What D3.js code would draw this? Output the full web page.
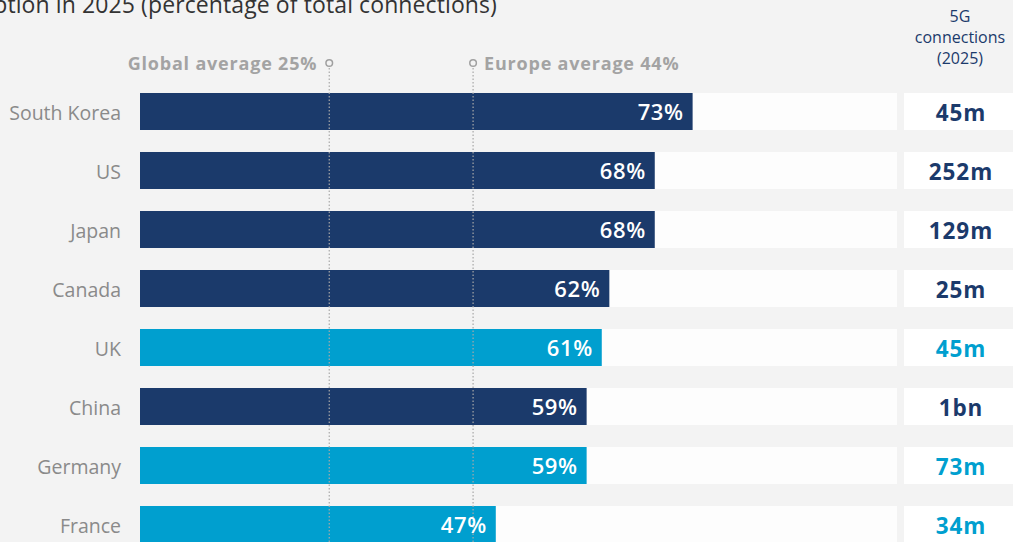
<!DOCTYPE html>
<html>
<head>
<meta charset="utf-8">
<script src="https://cdn.jsdelivr.net/npm/d3@7"></script>
<style>
  html, body { margin: 0; padding: 0; background: #f3f3f3; overflow: hidden; }
  svg { display: block; }
</style>
</head>
<body>
<div id="chart"></div>
<script>
// data
var countries = ["South Korea", "US", "Japan", "Canada", "UK", "China", "Germany", "France"];
var adoption = [73, 68, 68, 62, 61, 59, 59, 47];
var connections = ["45m", "252m", "129m", "25m", "45m", "1bn", "73m", "34m"];
var isEurope = [false, false, false, false, true, false, true, true];
var averages = [
  { label: "Global average 25%", value: 25, side: "left" },
  { label: "Europe average 44%", value: 44, side: "right" }
];

var width = 1013, height = 542;
var navy = "#1b3a6b", blue = "#009fcf";
var font = "Open Sans, sans-serif";

var svg = d3.select("#chart").append("svg")
  .attr("width", width)
  .attr("height", height);

svg.append("rect").attr("width", width).attr("height", height).attr("fill", "#f3f3f3");

var x = d3.scaleLinear().domain([0, 100]).range([140, 897]);
var y = d3.scaleBand()
  .domain(countries)
  .range([93, 93 + 59 * (countries.length - 22 / 59)])
  .paddingInner(22 / 59)
  .paddingOuter(0);

var rows = countries.map(function (c, i) {
  return { country: c, value: adoption[i], conn: connections[i], europe: isEurope[i] };
});

// title (cut off at top in the original crop)
svg.append("text")
  .attr("x", 497)
  .attr("y", 13)
  .attr("text-anchor", "end")
  .attr("font-family", font)
  .attr("font-size", 23)
  .attr("letter-spacing", 0.1)
  .attr("fill", "#333")
  .text("5G adoption in 2025 (percentage of total connections)");

// column header
svg.append("text")
  .attr("text-anchor", "middle")
  .attr("font-family", font)
  .attr("font-size", 16)
  .attr("fill", navy)
  .selectAll("tspan")
  .data(["5G", "connections", "(2025)"])
  .enter().append("tspan")
  .attr("x", 960)
  .attr("y", function (d, i) { return 22 + i * 21; })
  .text(function (d) { return d; });

// tracks
svg.selectAll(".track")
  .data(rows)
  .enter().append("rect")
  .attr("class", "track")
  .attr("x", x(0))
  .attr("y", function (d) { return y(d.country); })
  .attr("width", x(100) - x(0))
  .attr("height", y.bandwidth())
  .attr("fill", "#fdfdfd");

// bars
svg.selectAll(".bar")
  .data(rows)
  .enter().append("rect")
  .attr("class", "bar")
  .attr("x", x(0))
  .attr("y", function (d) { return y(d.country); })
  .attr("width", function (d) { return x(d.value) - x(0); })
  .attr("height", y.bandwidth())
  .attr("fill", function (d) { return d.europe ? blue : navy; });

// average lines
var avg = svg.selectAll(".avg")
  .data(averages)
  .enter().append("g")
  .attr("class", "avg");

avg.append("line")
  .attr("x1", function (d) { return x(d.value); })
  .attr("x2", function (d) { return x(d.value); })
  .attr("y1", 68)
  .attr("y2", height)
  .attr("stroke", "#a8a8a8")
  .attr("stroke-width", 1.2)
  .attr("stroke-dasharray", "1.5,2");

avg.append("circle")
  .attr("cx", function (d) { return x(d.value); })
  .attr("cy", 63)
  .attr("r", 3.3)
  .attr("fill", "#f3f3f3")
  .attr("stroke", "#a0a0a0")
  .attr("stroke-width", 1.5);

avg.append("text")
  .attr("x", function (d) { return d.side === "left" ? x(d.value) - 12 : x(d.value) + 11; })
  .attr("y", 70)
  .attr("text-anchor", function (d) { return d.side === "left" ? "end" : "start"; })
  .attr("font-family", font)
  .attr("font-weight", "bold")
  .attr("font-size", 18)
  .attr("letter-spacing", 0.8)
  .attr("fill", "#a3a3a3")
  .text(function (d) { return d.label; });

// country labels
svg.selectAll(".country")
  .data(rows)
  .enter().append("text")
  .attr("class", "country")
  .attr("x", 121)
  .attr("y", function (d) { return y(d.country) + y.bandwidth() / 2; })
  .attr("dy", "0.42em")
  .attr("text-anchor", "end")
  .attr("font-family", font)
  .attr("font-size", 19.5)
  .attr("fill", "#8a8a8a")
  .text(function (d) { return d.country; });

// value labels
svg.selectAll(".val")
  .data(rows)
  .enter().append("text")
  .attr("class", "val")
  .attr("x", function (d) { return x(d.value) - 9; })
  .attr("y", function (d) { return y(d.country) + y.bandwidth() / 2; })
  .attr("dy", "0.4em")
  .attr("text-anchor", "end")
  .attr("font-family", font)
  .attr("font-weight", 600)
  .attr("font-size", 22)
  .attr("letter-spacing", 0.6)
  .attr("fill", "#fff")
  .text(function (d) { return d.value + "%"; });

// connections column
svg.selectAll(".connbox")
  .data(rows)
  .enter().append("rect")
  .attr("class", "connbox")
  .attr("x", 904)
  .attr("y", function (d) { return y(d.country); })
  .attr("width", width - 904)
  .attr("height", y.bandwidth())
  .attr("fill", "#fff");

svg.selectAll(".conn")
  .data(rows)
  .enter().append("text")
  .attr("class", "conn")
  .attr("x", 961)
  .attr("y", function (d) { return y(d.country) + y.bandwidth() / 2; })
  .attr("dy", "0.4em")
  .attr("text-anchor", "middle")
  .attr("font-family", font)
  .attr("font-weight", "bold")
  .attr("font-size", 22.5)
  .attr("letter-spacing", 0.9)
  .attr("fill", function (d) { return d.europe ? blue : navy; })
  .text(function (d) { return d.conn; });
</script>
</body>
</html>
